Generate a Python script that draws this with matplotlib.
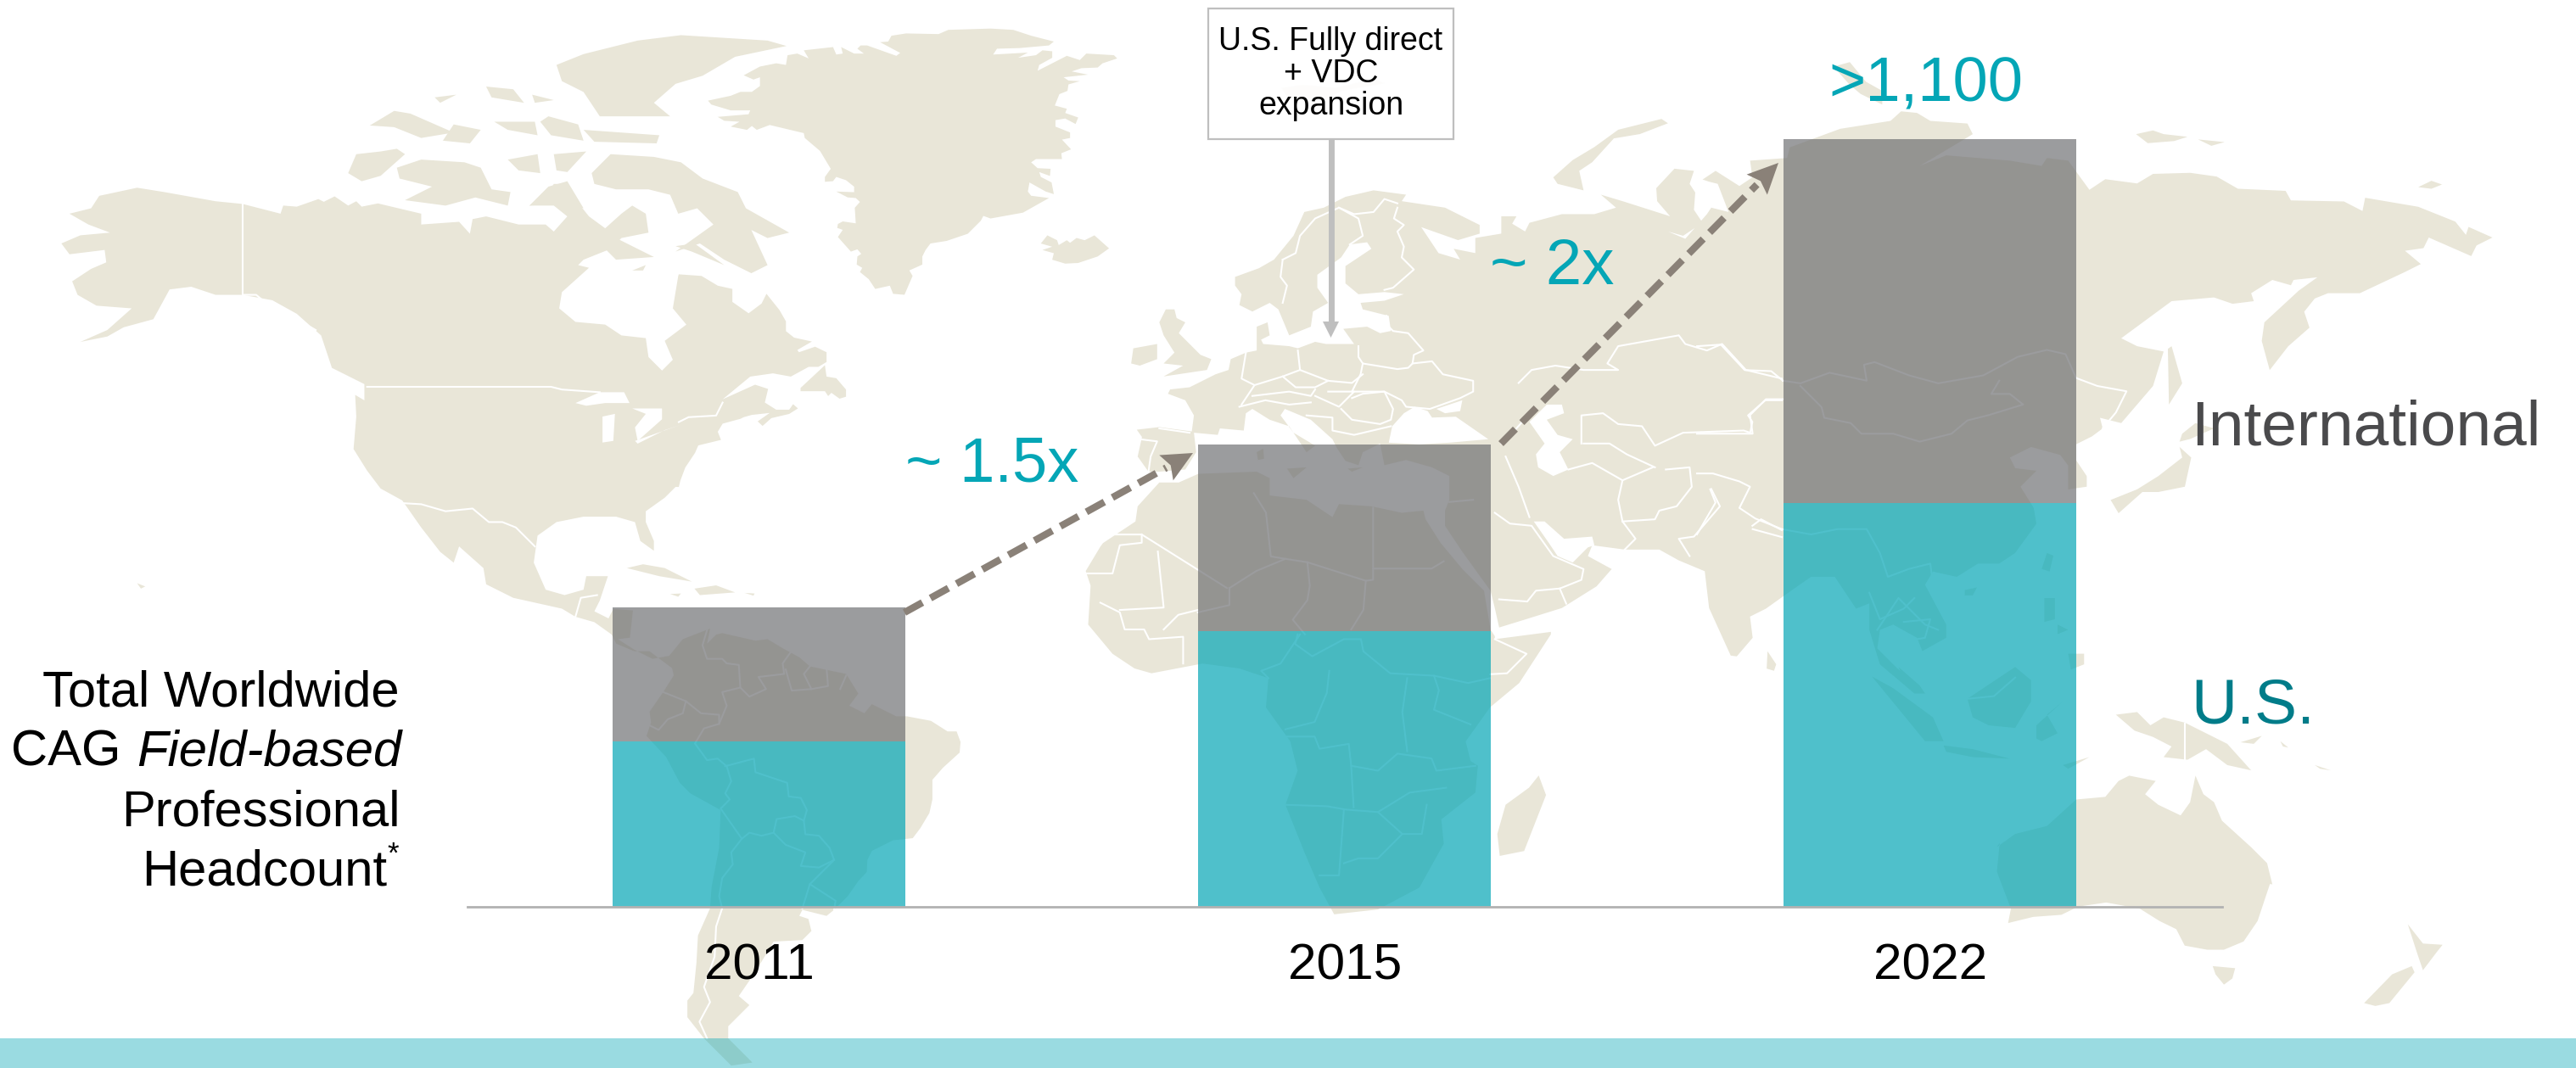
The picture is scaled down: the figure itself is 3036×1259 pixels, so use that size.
import matplotlib
matplotlib.use("Agg")
import matplotlib.pyplot as plt
from matplotlib.patches import Polygon, Rectangle

plt.rcParams['font.family'] = ['Liberation Sans', 'DejaVu Sans']

# Data
years = ['2011', '2015', '2022']
us_headcount = [236, 394, 578]
intl_headcount = [192, 268, 522]

W, H = 3036, 1259
LAND = '#e9e6d8'
TEAL = '#04a6b6'
GREY = '#6c6d70'
ARROW = '#8a8178'

# crop origins and scales the outline was traced in -> figure pixels
def A(p): return [(50 + x / 1.568, y / 1.568) for x, y in p]
def B(p): return [(1050 + x / 1.742, 300 + y / 1.742) for x, y in p]
def C(p): return [(2000 + x / 1.6, 80 + y / 1.6) for x, y in p]
def G(p): return [(800 + x / 2.613, y / 2.613) for x, y in p]
def S(p): return [(680 + x / 2.805, 700 + y / 2.805) for x, y in p]
def E(p): return [(1300 + x / 1.96, 130 + y / 1.96) for x, y in p]
def Z3(p): return [(2000 + x / 1.5135, 500 + y / 2.066) for x, y in p]
def Z1(p): return [(1300 + x / 1.568, y / 2.8) for x, y in p]

# Background map
north_america = A([(50,395),(90,385),(105,362),(175,347),(225,355),(320,372),(370,377),(440,395),(445,380),(470,382),(510,368),(520,373),(540,363),(565,380),(580,372),(590,382),(620,376),(700,395),(700,415),(770,410),(790,432),(795,405),(820,400),(880,415),(930,415),(945,428),(970,400),(945,380),(900,380),(930,365),(945,340),(970,340),(990,375),(1010,400),(1040,422),(1070,395),(1090,380),(1115,395),(1120,430),(1070,440),(1050,460),(1000,480),(990,490),(1010,495),(960,540),(955,570),(985,595),(1040,600),(1070,620),(1115,625),(1120,660),(1145,685),(1165,665),(1150,630),(1190,600),(1165,570),(1175,510)]) \
    + G([(0,845),(70,850),(120,880),(165,890),(165,930),(215,965),(255,935),(270,905),(310,955),(330,990),(330,1020),(355,1040),(410,1052),(365,1078),(370,1085),(420,1068),(455,1085),(455,1115),(430,1130),(400,1130),(345,1160),(290,1150),(220,1160),(135,1230),(235,1185),(275,1198),(265,1240),(300,1262),(340,1262),(352,1245),(367,1258),(340,1275),(285,1288),(258,1312),(243,1298),(280,1272),(225,1278),(200,1285),(190,1290),(135,1305),(120,1330),(130,1355),(60,1372),(50,1395),(20,1440),(5,1480),(0,1500)]) \
    + A([(1170,900),(1150,920),(1115,945),(1115,965),(1130,1000),(1130,1018),(1105,1000),(1095,965),(1060,955),(1000,955),(950,965),(915,990),(908,1040),(930,1090),(965,1100),(1000,1090),(1005,1065),(1045,1065),(1030,1110),(1020,1130),(1060,1150),(1055,1175),(1020,1150),(985,1140),(960,1125),(870,1105),(820,1080),(815,1050),(770,1010),(760,1040),(735,1020),(700,975),(665,925),(625,903),(600,870),(575,830),(580,770),(578,730),(595,740),(595,710),(535,680),(515,620),(470,580),(425,555),(370,545),(320,545),(275,530),(235,535),(205,590),(150,605),(120,622),(70,632),(120,610),(165,570),(100,565),(65,545),(55,520),(90,497),(118,485),(115,462),(50,470),(35,450),(70,435),(125,430),(85,415)])
canada_islands = [
    A([(1015,320),(1050,285),(1130,290),(1180,300),(1220,330),(1285,355),(1300,385),(1380,430),(1340,440),(1310,425),(1340,490),(1310,505),(1260,480),(1215,450),(1170,465),(1240,415),(1210,385),(1175,395),(1160,360),(1120,350),(1060,350),(1020,340)]),
    A([(655,310),(700,295),(780,300),(810,310),(830,350),(865,355),(860,380),(800,365),(745,380),(670,370),(720,345),(660,330)]),
    A([(565,320),(580,285),(625,280),(655,275),(670,285),(625,325),(590,335)]),
    A([(605,232),(650,205),(680,210),(760,245),(700,255),(650,235)]),
    A([(760,230),(810,240),(790,265),(740,260)]),
    A([(950,120),(1000,100),(1100,75),(1180,65),(1340,75),(1375,85),(1280,105),(1220,140),(1170,155),(1130,190),(1160,215),(1030,215),(1000,170),(960,150)]),
    A([(1000,240),(1140,250),(1135,265),(1020,262)]),
    A([(820,160),(870,165),(890,190),(830,180)]),
    A([(905,175),(945,185),(910,190)]),
    A([(725,180),(765,175),(735,190)]),
    A([(935,215),(990,230),(1000,260),(940,250),(920,225)]),
    A([(835,225),(910,225),(915,250),(860,240)]),
    A([(945,285),(1005,280),(970,318),(950,315)]),
    A([(860,295),(915,285),(920,320),(880,315)]),
    A([(935,345),(970,335),(1000,385),(960,375),(900,380)]),
    A([(1170,455),(1205,450),(1260,490),(1200,465)]),
    A([(1090,500),(1115,490),(1110,500)]),
    A([(1030,450),(1060,440),(1130,475),(1060,480)]),
]
greenland = G([(90,310),(160,295),(190,283),(225,283),(250,265),(250,238),(230,245),(200,232),(250,205),(300,195),(330,200),(335,170),(365,165),(400,180),(385,155),(475,145),(485,168),(505,165),(500,145),(540,165),(570,165),(550,150),(560,140),(580,140),(670,172),(682,163),(620,130),(645,128),(655,110),(700,103),(800,105),(830,92),(960,88),(1030,92),(1085,110),(1155,128),(1140,140),(1050,148),(980,150),(968,168),(1075,162),(1045,178),(1100,170),(1120,155),(1150,158),(1150,178),(1110,200),(1105,218),(1195,172),(1235,185),(1255,165),(1340,170),(1350,180),(1305,195),(1290,208),(1240,210),(1210,220),(1260,230),(1185,238),(1200,248),(1235,250),(1200,260),(1197,280),(1172,290),(1158,325),(1195,335),(1190,348),(1230,362),(1222,382),(1190,365),(1160,370),(1160,390),(1205,408),(1205,425),(1180,430),(1208,460),(1178,472),(1180,490),(1100,490),(1085,500),(1105,518),(1145,520),(1143,542),(1110,530),(1115,545),(1148,562),(1155,598),(1130,590),(1080,562),(1075,590),(1085,603),(1140,610),(1060,655),(960,673),(938,665),(930,680),(890,720),(825,742),(775,750),(760,770),(750,790),(750,815),(710,833),(720,850),(695,908),(660,905),(650,880),(605,890),(585,860),(558,838),(565,825),(548,815),(550,790),(562,782),(550,768),(530,775),(490,730),(505,708),(488,702),(490,690),(505,682),(545,688),(542,640),(558,622),(545,610),(520,608),(485,590),(540,592),(540,575),(515,555),(485,545),(475,558),(450,560),(450,545),(468,520),(435,465),(388,425),(385,410),(280,385),(240,400),(225,388),(210,400),(160,390),(187,375),(140,372),(120,360),(215,352),(220,340),(160,340),(100,322)])
eurasia = E([(78,738),(130,732),(205,742),(210,705),(190,670),(150,655),(155,645),(200,640),(260,610),(290,600),(295,575),(330,560),(355,555),(355,500),(380,490),(385,520),(365,530),(370,540),(430,545),(450,550),(490,535),(515,540),(580,540),(555,505),(610,500),(640,515),(665,510),(660,475),(600,460),(595,445),(650,440),(695,425),(650,420),(590,425),(560,400),(560,360),(620,320),(610,305),(570,310),(550,340),(495,380),(495,410),(520,445),(485,465),(480,500),(430,520),(405,460),(385,445),(345,465),(315,450),(320,425),(305,405),(305,385),(360,365),(395,345),(440,290),(465,235),(510,225),(560,200),(625,185),(700,195),(690,210),(790,225),(870,265),(870,285),(820,300),(735,270),(775,330),(825,345),(810,320),(860,330),(860,295),(920,285),(920,245),(955,245),(945,262),(975,280),(985,260),(1060,240),(1135,240),(1185,225),(1150,195),(1200,210),(1310,245),(1280,210),(1278,180),(1320,135),(1365,140),(1355,170),(1368,190),(1365,230),(1385,260),(1340,290),(1305,280),(1345,297),(1395,240),(1405,225),(1445,235),(1420,170),(1400,165),(1385,160),(1415,140),(1470,175),(1500,155),(1495,118)]) \
    + C([(100,175),(170,170),(175,150),(270,115),(365,100),(385,82),(415,85),(440,100),(510,105),(520,125),(420,185),(470,165),(590,175),(650,185),(660,170),(700,175),(740,230),(770,210),(830,218),(860,200),(930,198),(980,205),(1020,228),(1110,232),(1120,250),(1220,252),(1255,270),(1260,245),(1360,262),(1430,290),(1450,315),(1455,300),(1500,320),(1470,335),(1460,355),(1380,320),(1370,340),(1335,345),(1365,370),(1335,385),(1250,425),(1190,425),(1165,435),(1145,460),(1155,490),(1115,525),(1080,570),(1065,515),(1070,480),(1135,420),(1170,395),(1125,400),(1120,410),(1085,400),(1045,425),(1050,440),(1010,445),(975,433),(895,440),(800,510),(830,525),(880,535),(860,600),(800,670),(760,660),(765,680),(745,695),(715,710),(715,740),(735,770),(735,790),(700,795),(700,750),(685,730),(630,715),(590,735),(600,755),(640,760),(610,790),(635,830),(640,860),(600,915),(570,935),(530,935),(490,960),(445,950),(430,975),(470,1050),(470,1075),(425,1100),(415,1075),(370,1050),(345,1060),(340,1095),(375,1130),(430,1180),(410,1180),(345,1125),(325,1060),(325,1010),(300,1020),(280,990),(260,960),(215,960),(165,995),(130,1020),(100,1035),(105,1075),(75,1110)]) \
    + E([(1450,1260),(1400,1150),(1390,1065),(1330,1040),(1285,1015),(1205,1015),(1130,1005),(1120,1030),(1175,1060),(1140,1100),(1060,1150),(980,1175),(915,1195),(905,1150),(895,1110),(830,1020),(790,960),(790,925),(800,900),(800,845),(760,825),(700,808),(650,820),(640,770),(600,790),(590,820),(560,810),(540,780),(530,760),(480,715),(420,690),(410,705),(440,745),(490,775),(470,790),(430,730),(385,715),(345,690),(330,700),(325,740),(270,735),(265,750),(210,745),(215,790),(190,830),(130,835),(105,835),(80,800),(90,755)])
africa = E([(905,1215),(895,1200),(880,1110),(830,1060),(780,1000),(745,945),(740,925),(690,930),(620,915),(545,910),(530,940),(470,900),(385,890),(385,850),(355,835),(220,840),(175,860),(130,860),(80,915),(75,950),(0,1000)]) \
    + B([(430,600),(400,650),(410,680),(405,760),(455,820),(500,850),(535,860),(640,840),(715,850),(775,870),(770,930),(820,1000),(835,1060),(810,1130),(850,1230),(880,1300),(910,1355),(1000,1345),(1085,1300),(1135,1210),(1130,1160),(1200,1105),(1205,1050),(1190,1040),(1180,1000),(1230,930),(1290,880),(1355,780),(1355,775),(1240,790)])
south_america = S([(305,205),(350,150),(440,115),(430,165),(460,135),(480,130),(590,155),(630,150),(680,180),(735,210),(770,240),(890,265),(930,330),(900,370),(950,395),(975,365),(1055,405),(1090,405),(1170,420),(1225,455),(1255,455),(1268,490),(1265,525),(1210,575),(1175,615),(1175,680),(1165,725),(1135,775),(1110,808),(1045,815),(975,850),(960,880),(958,920),(930,950),(895,1000),(850,1045),(825,1065),(745,1045),(735,1065),(765,1075),(775,1115),(745,1145),(650,1150),(590,1250),(535,1330),(570,1360),(525,1405),(500,1430),(500,1470),(580,1550),(510,1560),(420,1470),(365,1400),(365,1345),(385,1320),(395,1220),(400,1130),(440,1040),(445,970),(470,840),(475,715),(375,660),(340,625),(295,540),(230,470),(245,425),(240,390),(285,325),(320,270)])
australia = C([(565,1470),(600,1445),(660,1430),(715,1380),(770,1375),(795,1345),(815,1335),(865,1345),(845,1370),(870,1390),(912,1410),(930,1385),(940,1335),(955,1370),(975,1385),(990,1420),(1045,1470),(1075,1500),(1085,1540)]) \
    + Z3([(1022,1120),(1000,1210),(975,1260),(940,1280),(910,1280),(870,1270),(855,1230),(825,1210),(790,1180),(730,1165),(680,1175),(650,1195),(600,1200),(555,1215),(560,1180),(535,1090),(540,1020)])
islands = [
    S([(100,90),(120,50),(185,55),(175,145),(135,150),(190,185),(250,215),(305,205),(320,250),(240,190),(190,190),(130,165),(110,125)]),
    A([(1080,1050),(1110,1043),(1150,1050),(1200,1075),(1140,1065)]),
    A([(1205,1088),(1245,1082),(1280,1095),(1215,1100)]),
    A([(1160,1098),(1180,1097),(1175,1103)]),
    A([(1298,1096),(1316,1097),(1314,1101)]),
    A([(175,1078),(190,1084),(182,1088)]),
    G([(375,1205),(375,1195),(450,1125),(455,1160),(485,1165),(515,1200),(515,1222),(495,1228),(470,1210),(460,1220),(450,1205)]),
    G([(1115,750),(1135,725),(1165,740),(1170,755),(1195,740),(1205,748),(1225,733),(1250,740),(1280,725),(1325,765),(1290,790),(1230,810),(1190,812),(1150,800),(1155,780),(1120,770),(1150,760)]),
    E([(130,490),(145,460),(165,460),(170,480),(190,490),(175,515),(200,540),(225,565),(250,575),(240,600),(140,615),(185,590),(140,585),(165,560),(140,520)]),
    E([(70,550),(125,540),(125,575),(85,590),(65,585)]),
    E([(1040,155),(1085,115),(1135,85),(1190,45),(1290,20),(1305,30),(1240,55),(1180,65),(1130,120),(1100,140),(1110,185),(1050,170)]),
    E([(355,790),(370,782),(372,805),(358,808)]),
    E([(425,828),(470,825),(440,850)]),
    E([(565,828),(600,825),(575,835)]),
    E([(1535,1250),(1555,1280),(1550,1295),(1533,1290)]),
    Z1([(330,290),(370,280),(430,290),(500,260),(520,275),(440,300),(410,330),(340,320)]),
    Z1([(1350,220),(1380,205),(1410,270),(1440,300),(1440,345),(1400,310),(1380,280)]),
    B([(1330,1070),(1345,1110),(1300,1225),(1250,1235),(1245,1190),(1262,1130),(1310,1095)]),
    C([(828,125),(860,118),(880,125),(925,130),(900,138),(850,142)]),
    C([(945,135),(995,140),(970,147)]),
    C([(1360,225),(1385,213),(1405,220),(1385,228)]),
    C([(780,815),(830,795),(870,770),(915,735),(910,715),(932,735),(920,790),(870,800),(840,800),(795,840)]),
    C([(915,690),(940,670),(975,680),(930,700),(910,705)]),
    C([(895,525),(915,595),(890,635),(888,530)]),
    C([(660,915),(672,920),(665,950),(650,945)]),
    C([(505,985),(528,980),(520,995),(505,995)]),
    C([(655,1000),(675,1000),(675,1040),(655,1045)]),
    C([(700,1105),(730,1105),(730,1125),(705,1135)]),
    C([(680,1050),(700,1060),(680,1068)]),
    C([(510,1190),(600,1130),(630,1155),(630,1195),(600,1245),(550,1240),(520,1225)]),
    C([(330,1148),(370,1170),(445,1225),(465,1270),(430,1270),(385,1215)]),
    C([(380,1130),(420,1165),(430,1180),(395,1165)]),
    C([(465,1278),(520,1285),(590,1303),(520,1300),(470,1290)]),
    C([(640,1240),(690,1195),(660,1220),(680,1255),(650,1270),(640,1265)]),
    C([(690,1315),(740,1300),(700,1322)]),
    C([(790,1220),(830,1215),(855,1240),(880,1225),(920,1235),(1000,1275),(1045,1325),(1000,1315),(960,1285),(925,1305),(880,1300),(895,1280),(860,1262),(825,1250)]),
    C([(1025,1272),(1065,1260),(1050,1275)]),
    C([(1100,1270),(1115,1282),(1105,1280)]),
    C([(1165,1315),(1195,1325),(1175,1322)]),
    Z3([(920,1320),(960,1325),(955,1350),(940,1365),(925,1340)]),
    Z3([(1190,1410),(1240,1340),(1275,1320),(1280,1335),(1235,1410),(1210,1417)]),
    Z3([(1268,1218),(1295,1265),(1330,1268),(1320,1285),(1295,1330),(1285,1290)]),
]
seas = [
    A([(985,745),(1030,725),(1075,725),(1085,745),(1040,745),(1005,750)]),
    A([(1035,770),(1058,765),(1055,815),(1035,818)]),
    A([(1090,755),(1145,755),(1145,775),(1100,815),(1095,790),(1115,765)]),
    A([(1095,815),(1180,785),(1150,795),(1100,820)]),
    E([(660,768),(668,730),(695,700),(720,685),(750,695),(760,710),(815,708),(890,760),(800,768),(730,772)]),
    E([(770,690),(830,670),(825,695),(790,700)]),
    E([(1025,680),(1060,680),(1065,700),(1025,715),(1050,750),(1085,760),(1055,790),(1075,830),(1040,845),(1005,825),(1000,795),(1020,770),(985,720)]),
    E([(995,950),(1020,950),(1065,990),(1130,985),(1135,1005),(1120,1010),(1085,1045),(1050,1030),(1030,1000)]),
]
borders = [
    A([(370,378),(370,545),(395,545),(425,570),(470,590),(505,610)]),
    A([(600,715),(940,715),(960,720),(1030,725)]),
    A([(665,930),(700,932),(745,945),(795,940),(825,965),(850,965),(875,975),(910,1010)]),
    A([(985,1140),(995,1105),(1025,1100)]),
    G([(135,1240),(115,1280),(30,1285),(0,1300)]),
    E([(415,345),(410,385),(425,405),(415,445)]),
    E([(415,345),(445,330),(455,290),(490,250),(545,225),(580,240),(625,235),(650,205),(680,215)]),
    E([(545,225),(590,250),(600,290),(570,310)]),
    E([(680,225),(672,250),(695,265),(680,280),(695,315),(690,340),(718,368),(670,410),(650,415)]),
    E([(655,475),(660,500),(670,510),(705,515),(740,555),(718,565),(715,585),(705,595),(680,598),(600,585),(590,570),(590,545)]),
    E([(600,585),(595,610),(575,650),(650,650),(690,670),(700,685),(755,690),(825,665),(855,650),(855,625),(785,610),(760,580),(715,585)]),
    E([(450,555),(455,600),(520,625),(575,630),(600,610)]),
    E([(330,560),(320,620),(350,635),(320,680)]),
    E([(350,635),(415,615),(455,600)]),
    E([(415,615),(445,640),(490,640),(520,625)]),
    E([(345,660),(430,650),(480,660),(490,645)]),
    E([(490,660),(545,685),(580,650),(520,650)]),
    E([(550,690),(575,715),(640,725),(665,715),(670,690),(650,650),(600,655),(575,665)]),
    E([(85,760),(125,765),(110,800),(105,835)]),
    E([(130,735),(200,745)]),
    E([(315,685),(375,670),(430,680),(480,675)]),
    E([(470,705),(530,710),(530,740),(580,750),(665,730)]),
    E([(920,770),(955,735),(995,690)]),
    E([(960,630),(990,600),(1045,590),(1110,600),(1190,600),(1165,585),(1190,545),(1330,520),(1345,540),(1395,555),(1430,540),(1485,600),(1568,620)]),
    E([(1105,770),(1105,705),(1155,700),(1190,725),(1245,730),(1275,775),(1340,745),(1480,740),(1495,745),(1500,720),(1490,705),(1530,670),(1568,670)]),
    E([(1075,830),(1130,815),(1200,855),(1270,825)]),
    E([(1110,770),(1170,770),(1210,795),(1275,825)]),
    E([(930,800),(960,870),(985,940)]),
    E([(1200,855),(1190,900),(1200,950),(1230,990),(1205,1015)]),
    E([(1200,950),(1275,945),(1285,925),(1325,915),(1360,870),(1355,825),(1300,830)]),
    E([(1405,875),(1425,915),(1365,985),(1330,990),(1355,1030)]),
    E([(1500,960),(1520,945),(1568,970)]),
    E([(905,930),(940,955),(990,960),(1040,1030),(1110,1060),(1105,1085),(1055,1105),(1000,1110),(980,1135),(915,1130)]),
    E([(1055,1105),(1070,1140)]),
    E([(855,900),(800,905)]),
    B([(455,575),(515,575),(515,592),(470,597),(455,655),(402,655)]),
    B([(515,575),(690,685)]),
    B([(548,610),(560,725),(470,730)]),
    B([(430,715),(470,735),(480,770),(520,770),(530,790),(600,785),(600,840)]),
    B([(560,770),(590,740),(630,730)]),
    B([(745,490),(770,530),(780,620),(810,625),(855,632),(975,670),(990,668),(990,520)]),
    B([(990,645),(1110,645),(1135,630)]),
    B([(695,685),(750,650),(810,625)]),
    B([(855,632),(860,680),(855,710),(825,750),(850,780)]),
    B([(975,670),(970,730),(945,770)]),
    B([(695,685),(695,720),(630,735)]),
    B([(840,780),(800,840),(760,855),(775,870)]),
    B([(835,780),(830,800),(865,825),(930,790),(965,790),(970,815),(1025,860),(1115,865),(1185,880),(1230,870)]),
    B([(900,855),(895,900),(870,960),(810,975)]),
    B([(1060,870),(1050,940),(1060,1020)]),
    B([(810,990),(870,990),(880,1015),(940,1005),(945,1050),(1000,1060),(1040,1025),(1110,1035),(1120,1060),(1200,1050)]),
    B([(810,1130),(895,1133),(935,1140),(1000,1145),(1065,1105),(1140,1095)]),
    B([(930,1140),(920,1275),(880,1275)]),
    B([(1000,1145),(1050,1190),(1090,1190),(1100,1130)]),
    B([(945,1050),(950,1135)]),
    B([(1050,1190),(1000,1240),(960,1240),(930,1250)]),
    B([(1115,865),(1125,895),(1115,935),(1190,965)]),
    B([(1240,790),(1305,820),(1265,860),(1230,862)]),
    S([(430,120),(415,170),(430,215),(480,215),(495,230),(535,235),(540,310),(480,325),(495,370),(470,430),(420,445),(390,495),(430,550),(465,545),(495,570),(510,620),(490,660),(505,680),(475,710),(510,760),(545,810),(570,790),(610,800),(650,790),(660,745),(720,735),(750,750),(755,795),(800,800),(835,840),(850,880),(825,905),(770,960),(745,1040)]),
    S([(540,310),(570,340),(625,315),(600,275),(685,265),(680,230),(705,195)]),
    S([(690,250),(710,320),(775,315),(750,265),(770,240)]),
    S([(775,315),(830,305),(825,245)]),
    S([(870,315),(890,270)]),
    S([(285,325),(360,355),(410,395),(470,400),(470,430)]),
    S([(360,355),(350,395),(300,415),(270,450),(240,435)]),
    S([(490,570),(585,545),(590,590),(695,625),(700,670),(740,675),(760,715),(750,750)]),
    S([(545,810),(510,855),(515,895),(480,940),(470,1000),(480,1040),(460,1100),(455,1200),(420,1300),(440,1350),(405,1415),(430,1470)]),
    S([(650,790),(690,830),(755,855),(740,900),(800,905),(850,880)]),
    S([(770,960),(855,1015),(850,1045)]),
    C([(0,525),(45,522),(90,570),(140,572),(162,590)]),
    C([(162,625),(130,625),(100,655),(105,690),(0,690)]),
    C([(162,590),(195,595),(250,575),(320,590),(315,560),(335,555),(400,580),(455,595),(540,580),(605,545),(660,532),(695,540),(715,585),(755,600),(810,610),(790,650),(765,680)]),
    C([(195,600),(235,640),(240,660),(290,670),(310,690),(370,690),(420,705),(480,690),(510,665),(550,655),(615,635),(590,615),(555,615),(570,590)]),
    C([(0,765),(30,765),(80,780),(100,790),(80,830),(110,850),(160,870),(215,880),(265,870),(320,870),(345,915),(360,960),(400,945),(440,935),(445,975)]),
    C([(0,880),(35,820),(25,795)]),
    C([(105,870),(160,885)]),
    C([(325,990),(345,1040),(390,1020),(410,1000)]),
    C([(340,1060),(380,1000),(430,1050),(455,1060)]),
    C([(390,1045),(440,1040),(430,1075),(400,1080)]),
    C([(510,1190),(560,1185),(600,1150)]),
    Z3([(871,730),(871,820)]),
]

fig = plt.figure(figsize=(W / 100, H / 100), dpi=100)
bg = fig.add_axes([0, 0, 1, 1], zorder=0)
bg.set_xlim(0, W)
bg.set_ylim(H, 0)
bg.axis('off')

for p in [north_america, greenland, eurasia, africa, south_america, australia] + canada_islands + islands:
    bg.add_patch(Polygon(p, closed=True, fc=LAND, ec='none', zorder=1))
for p in seas:
    bg.add_patch(Polygon(p, closed=True, fc='white', ec='none', zorder=2))
for p in borders:
    bg.plot([q[0] for q in p], [q[1] for q in p], color='white', lw=1.5, zorder=3,
            solid_joinstyle='round')

bg.add_patch(Rectangle((0, 1224), W, 35, fc=TEAL, ec='none', alpha=0.4, zorder=4))

# The bars
px_per_unit = 0.8227
ax = fig.add_axes([551 / W, (H - 1068.5) / H, 2068 / W, 1068.5 / H], zorder=1)
ax.patch.set_alpha(0)
x = range(len(years))
ax.bar(x, us_headcount, width=0.5, color=matplotlib.colors.to_rgba(TEAL, 0.7))
ax.bar(x, intl_headcount, width=0.5, bottom=us_headcount,
       color=matplotlib.colors.to_rgba(GREY, 0.68))
ax.set_xlim(-0.498, 2.499)
ax.set_ylim(0, 1068.5 / px_per_unit)
for side in ['top', 'left', 'right']:
    ax.spines[side].set_visible(False)
ax.spines['bottom'].set_color('#b2b2b2')
ax.spines['bottom'].set_linewidth(2)
ax.set_yticks([])
ax.set_xticks(list(x))
ax.set_xticklabels(years, fontsize=43.5, color='black')
ax.tick_params(axis='x', length=0, pad=31)

# Annotations go on top, in figure pixels
top = fig.add_axes([0, 0, 1, 1], zorder=2)
top.set_xlim(0, W)
top.set_ylim(H, 0)
top.axis('off')
top.patch.set_alpha(0)

def dashed_arrow(x0, y0, x1, y1):
    dx, dy = x1 - x0, y1 - y0
    n = (dx ** 2 + dy ** 2) ** 0.5
    ux, uy = dx / n, dy / n
    bx, by = x1 - 36 * ux, y1 - 36 * uy
    top.plot([x0, bx], [y0, by], color=ARROW, lw=6, dashes=(2.9, 1.3))
    top.add_patch(Polygon([(x1, y1), (bx - 17 * uy, by + 17 * ux), (bx + 6 * ux, by + 6 * uy),
                           (bx + 17 * uy, by - 17 * ux)], closed=True, fc=ARROW, ec='none'))

dashed_arrow(1066, 722, 1406, 534)
dashed_arrow(1769, 523, 2096, 192)

top.text(1067, 567, '~ 1.5x', color=TEAL, fontsize=53.5, va='baseline', ha='left')
top.text(1756, 335, '~ 2x', color=TEAL, fontsize=55, va='baseline', ha='left')
top.text(2270, 119, '>1,100', color=TEAL, fontsize=53.5, va='baseline', ha='center')
top.text(2582, 524, 'International', color='#4a4a4c', fontsize=54, va='baseline', ha='left')
top.text(2582, 852, 'U.S.', color='#007c89', fontsize=54, va='baseline', ha='left')

# callout box
top.add_patch(Rectangle((1424, 10), 289, 154, fc=(1, 1, 1, 0.92), ec='#bfbfbf', lw=1.6))
for line, yb in zip(['U.S. Fully direct', '+ VDC', 'expansion'], [59, 97, 135]):
    top.text(1568.5, yb, line, fontsize=27, color='black', ha='center', va='baseline')
top.plot([1568.5, 1568.5], [164, 382], color='#bfbfbf', lw=5, solid_capstyle='butt')
top.add_patch(Polygon([(1559, 379), (1578, 379), (1568.5, 398)], closed=True, fc='#bfbfbf', ec='none'))

# left hand label, right aligned at x=471
top.text(471, 832, 'Total Worldwide', fontsize=43, ha='right', va='baseline')
italic = top.text(473, 902, 'Field-based', fontsize=43, style='italic', ha='right', va='baseline')
fig.canvas.draw()
ext = italic.get_window_extent()
top.text(ext.x0 - 2, 902, 'CAG ', fontsize=43, ha='right', va='baseline')
top.text(472, 973, 'Professional', fontsize=43, ha='right', va='baseline')
top.text(456, 1043, 'Headcount', fontsize=43, ha='right', va='baseline')
top.text(456, 1017, '*', fontsize=25, ha='left', va='baseline')

fig.savefig('out.png', dpi=100)
